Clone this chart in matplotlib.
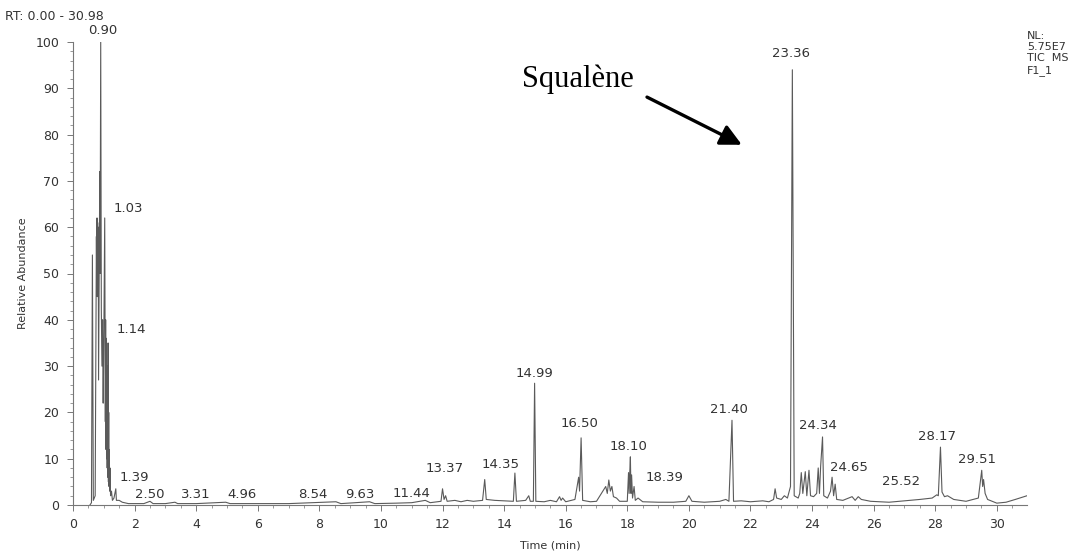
import matplotlib
matplotlib.use("Agg")
import matplotlib.pyplot as plt
from matplotlib.ticker import MultipleLocator

# trace (time in min, relative abundance in %)
time_min = [
    0.55, 0.60, 0.63, 0.66, 0.72, 0.76, 0.77, 0.78, 0.79, 0.80, 0.81, 0.82,
    0.83, 0.85, 0.87, 0.88, 0.90, 0.92, 0.94, 0.96, 0.98, 1.00, 1.03, 1.05,
    1.06, 1.07, 1.08, 1.09, 1.10, 1.11, 1.12, 1.13, 1.14, 1.15, 1.16, 1.17,
    1.18, 1.19, 1.20, 1.22, 1.25, 1.28, 1.33, 1.39, 1.41, 1.50, 1.60, 1.80,
    2.00, 2.30, 2.50, 2.60, 3.00, 3.31, 3.40, 4.00, 4.96, 5.10, 6.00, 7.00,
    8.54, 8.70, 9.63, 9.80, 10.50, 11.00, 11.44, 11.60, 11.95, 12.00, 12.05,
    12.10, 12.15, 12.40, 12.60, 12.80, 13.00, 13.30, 13.37, 13.42, 13.70,
    14.00, 14.30, 14.35, 14.40, 14.70, 14.80, 14.85, 14.95, 14.99, 15.03,
    15.30, 15.50, 15.70, 15.80, 15.85, 15.90, 16.00, 16.30, 16.42, 16.45,
    16.50, 16.55, 16.80, 17.00, 17.30, 17.35, 17.40, 17.45, 17.50, 17.55,
    17.65, 17.75, 18.00, 18.04, 18.06, 18.08, 18.10, 18.12, 18.14, 18.17,
    18.22, 18.26, 18.35, 18.50, 19.00, 19.50, 19.90, 20.00, 20.10, 20.50,
    21.00, 21.20, 21.30, 21.40, 21.45, 21.70, 22.00, 22.40, 22.60, 22.75,
    22.80, 22.85, 23.00, 23.10, 23.20, 23.30, 23.36, 23.42, 23.55, 23.60,
    23.65, 23.70, 23.78, 23.83, 23.90, 23.95, 24.05, 24.15, 24.20, 24.24,
    24.28, 24.34, 24.38, 24.50, 24.60, 24.65, 24.70, 24.75, 24.80, 25.00,
    25.30, 25.40, 25.50, 25.60, 25.90, 26.50, 27.00, 27.50, 27.90, 28.05,
    28.10, 28.17, 28.22, 28.30, 28.40, 28.60, 29.00, 29.40, 29.51, 29.54,
    29.57, 29.62, 29.70, 30.00, 30.30, 30.60, 30.98,
]
rel_abundance = [
    0.0, 0.5, 54.0, 1.0, 2.0, 58.0, 47.0, 62.0, 45.0, 61.0, 48.0, 60.0,
    27.0, 50.0, 72.0, 50.0, 100.0, 42.0, 30.0, 40.0, 22.0, 35.0, 62.0, 18.0,
    40.0, 12.0, 36.0, 10.0, 30.0, 8.0, 25.0, 6.0, 35.0, 5.0, 20.0, 4.0,
    12.0, 3.0, 8.0, 2.0, 3.0, 1.0, 1.5, 3.5, 1.0, 1.0, 0.6, 0.3,
    0.3, 0.3, 0.8, 0.3, 0.3, 0.6, 0.3, 0.3, 0.6, 0.3, 0.3, 0.3,
    0.7, 0.3, 0.7, 0.3, 0.4, 0.5, 1.0, 0.5, 0.8, 3.5, 1.2,
    2.0, 0.8, 1.0, 0.7, 1.0, 0.8, 1.0, 5.5, 1.2, 1.0,
    0.9, 0.8, 6.9, 0.8, 1.0, 2.0, 0.8, 0.8, 26.3, 0.8,
    0.7, 1.0, 0.7, 1.8, 1.0, 1.5, 0.7, 1.2, 6.0, 3.0,
    14.5, 1.0, 0.7, 0.8, 4.0, 2.5, 5.4, 3.0, 4.0, 1.8,
    1.5, 0.8, 0.8, 7.0, 2.5, 7.0, 10.4, 2.5, 6.5, 1.5,
    4.0, 1.0, 1.5, 0.7, 0.6, 0.6, 0.8, 2.0, 0.8, 0.6,
    0.8, 1.2, 0.8, 18.3, 0.8, 0.9, 0.7, 0.9, 0.7, 1.2,
    3.5, 1.5, 1.2, 2.0, 1.5, 4.0, 94.0, 2.0, 1.5, 2.5,
    7.0, 2.5, 7.2, 2.0, 7.5, 2.0, 1.8, 2.5, 8.0, 2.5,
    8.5, 14.7, 2.0, 1.5, 3.0, 6.0, 2.0, 4.5, 1.2, 1.0,
    1.8, 1.0, 1.8, 1.2, 0.8, 0.6, 0.9, 1.2, 1.5, 2.2,
    2.0, 12.5, 2.8, 1.8, 2.0, 1.2, 0.8, 1.5, 7.5, 4.0,
    5.5, 2.5, 1.2, 0.4, 0.6, 1.2, 2.0,
]

# retention-time labels printed by the software
peak_labels = ["0.90", "1.03", "1.14", "1.39", "2.50", "3.31", "4.96", "8.54",
               "9.63", "11.44", "13.37", "14.35", "14.99", "16.50", "18.10",
               "18.39", "21.40", "23.36", "24.34", "24.65", "25.52", "28.17",
               "29.51"]
# where each label sits (x in min, y in %)
label_x = [0.97, 1.8, 1.9, 2.0, 2.5, 4.0, 5.5, 7.8, 9.3, 11.0, 12.08, 13.9,
           15.0, 16.46, 18.05, 19.2, 21.3, 23.3, 24.2, 25.2, 26.9, 28.05, 29.35]
label_y = [102.4, 64, 38, 6, 2.3, 2.3, 2.3, 2.3, 2.3, 2.5, 7.8, 8.8,
           28.4, 17.7, 12.7, 6.0, 20.7, 97.5, 17.2, 8.2, 5.0, 14.9, 9.9]

fig = plt.figure(figsize=(10.89, 5.57), dpi=100)
ax = fig.add_axes([73 / 1089, 1 - 505 / 557, 954 / 1089, 463 / 557])

ax.plot(time_min, rel_abundance, color="#5a5a5a", lw=0.8)

ax.set_xlim(0, 30.98)
ax.set_ylim(0, 100)
ax.spines["top"].set_visible(False)
ax.spines["right"].set_visible(False)
for s in ["left", "bottom"]:
    ax.spines[s].set_color("#777777")
    ax.spines[s].set_linewidth(0.8)

ax.xaxis.set_major_locator(MultipleLocator(2))
ax.xaxis.set_minor_locator(MultipleLocator(0.5))
ax.yaxis.set_major_locator(MultipleLocator(10))
ax.yaxis.set_minor_locator(MultipleLocator(2))
ax.tick_params(which="major", length=4, width=0.7, color="#777777",
               labelsize=9, labelcolor="#333333")
ax.tick_params(which="minor", length=2.5, width=0.6, color="#888888")
ax.tick_params(axis="y", pad=6)
ax.tick_params(axis="x", pad=5)

ax.set_xlabel("Time (min)", fontsize=8, color="#333333", labelpad=7)
ax.set_ylabel("Relative Abundance", fontsize=8, color="#333333", labelpad=5)

for txt, lx, ly in zip(peak_labels, label_x, label_y):
    ax.text(lx, ly, txt, ha="center", va="center", fontsize=9.5,
            color="#333333", clip_on=False)

fig.text(5 / 1089, 1 - 16 / 557, "RT: 0.00 - 30.98", ha="left", va="center",
         fontsize=9, color="#333333")
fig.text(1027 / 1089, 1 - 31 / 557, "NL:\n5.75E7\nTIC  MS\nF1_1", ha="left",
         va="top", fontsize=8, color="#333333", linespacing=1.15)

ax.text(14.58, 90.3, "Squalène", ha="left", va="baseline",
        fontsize=22, family="Liberation Serif", color="black")
ax.annotate("", xy=(21.72, 77.8), xytext=(18.64, 88.1),
            arrowprops=dict(arrowstyle="-|>", mutation_scale=32, lw=2.4,
                            color="black", shrinkA=0, shrinkB=0))

fig.savefig("out.png", dpi=100)
